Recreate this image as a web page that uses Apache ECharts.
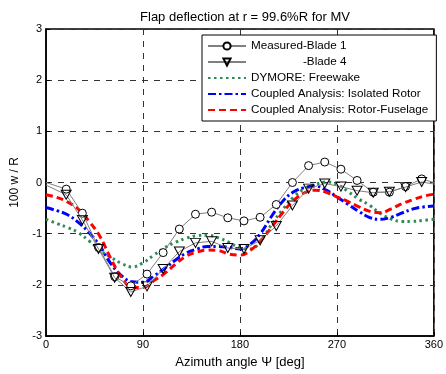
<!DOCTYPE html>
<html><head><meta charset="utf-8">
<script src="https://cdn.jsdelivr.net/npm/echarts@6/dist/echarts.min.js"></script>
<style>html,body{margin:0;padding:0;background:#fff}#c{width:446px;height:374px}</style>
</head><body><div id="c"></div>
<script>
// Measured azimuths (deg)
const measAz = [0, 18.75, 33.75, 48.75, 63.75, 78.75, 93.75, 108.75, 123.75, 138.75, 153.75, 168.75, 183.75, 198.75, 213.75, 228.75, 243.75, 258.75, 273.75, 288.75, 303.75, 318.75, 333.75, 348.75, 360];
const blade1 = [0.0, -0.13, -0.60, -1.27, -1.84, -2.02, -1.79, -1.37, -0.91, -0.62, -0.58, -0.69, -0.75, -0.68, -0.43, 0.0, 0.33, 0.40, 0.26, 0.04, -0.19, -0.19, -0.08, 0.07, 0.0];
const blade4 = [-0.05, -0.24, -0.73, -1.30, -1.86, -2.14, -2.03, -1.69, -1.35, -1.18, -1.15, -1.28, -1.30, -1.13, -0.85, -0.45, -0.12, -0.02, -0.08, -0.16, -0.20, -0.18, -0.09, 0.01, -0.03];
// Analysis azimuths (deg)
const simAz = [0,10,20,30,40,50,60,70,80,90,100,110,120,130,140,150,160,170,180,190,200,210,220,230,240,250,260,270,280,290,300,310,320,330,340,350,360];
const dymore = [-0.72,-0.80,-0.88,-0.98,-1.14,-1.32,-1.46,-1.58,-1.65,-1.57,-1.42,-1.28,-1.17,-1.09,-1.04,-1.03,-1.08,-1.17,-1.28,-1.30,-1.12,-0.80,-0.52,-0.28,-0.12,-0.04,0.01,-0.03,-0.17,-0.32,-0.44,-0.60,-0.71,-0.76,-0.76,-0.74,-0.72];
const isolated = [-0.49,-0.55,-0.63,-0.78,-0.98,-1.24,-1.58,-1.82,-1.94,-1.95,-1.83,-1.68,-1.52,-1.38,-1.30,-1.25,-1.25,-1.27,-1.30,-1.20,-0.97,-0.64,-0.36,-0.18,-0.10,-0.07,-0.15,-0.28,-0.42,-0.56,-0.68,-0.72,-0.68,-0.60,-0.52,-0.48,-0.46];
const fuselage = [-0.24,-0.29,-0.38,-0.52,-0.76,-1.05,-1.48,-1.85,-2.05,-2.05,-1.92,-1.78,-1.60,-1.44,-1.36,-1.32,-1.33,-1.40,-1.42,-1.32,-1.12,-0.86,-0.58,-0.35,-0.20,-0.15,-0.19,-0.28,-0.37,-0.47,-0.56,-0.59,-0.52,-0.42,-0.34,-0.27,-0.23];
const names = ['Measured-Blade 1','Measured-Blade 4','DYMORE: Freewake','Coupled Analysis: Isolated Rotor','Coupled Analysis: Rotor-Fuselage'];

const F = 'Liberation Sans, Arial, sans-serif';
function measData(az, v){
  return az.map((a,i)=>{
    const d = {value:[a, v[i]]};
    if (i===0 || i===az.length-1) d.symbol='none';
    return d;
  });
}
function simData(az, v){ return az.map((a,i)=>[a, v[i]]); }
const hideSym = {color:'rgba(0,0,0,0)', borderColor:'rgba(0,0,0,0)', borderWidth:0};

const chart = echarts.init(document.getElementById('c'), null, {renderer:'canvas'});
chart.setOption({
  animation:false,
  backgroundColor:'#fff',
  title:{text:'Flap deflection at r = 99.6%R for MV', left:240, textAlign:'center', top:6,
    textStyle:{fontFamily:F, fontSize:13, fontWeight:'normal', color:'#000'}},
  grid:{left:46, right:9, top:29, bottom:38, show:true, borderColor:'#000', borderWidth:1.5, backgroundColor:'transparent'},
  legend:{
    orient:'vertical', left:202, top:35,
    data:[
      {name:names[0]},
      {name:names[1]},
      {name:names[2], itemStyle:hideSym},
      {name:names[3], itemStyle:hideSym},
      {name:names[4], itemStyle:hideSym}
    ],
    backgroundColor:'#fff', borderColor:'#000', borderWidth:1, borderRadius:0,
    padding:[5,8,5,5], itemWidth:38, itemHeight:9, itemGap:4,
    textStyle:{fontFamily:F, fontSize:11.7, color:'#000',
      rich:{h:{color:'rgba(0,0,0,0)', fontFamily:F, fontSize:11.7}, n:{color:'#000', fontFamily:F, fontSize:11.7}}},
    formatter:function(n){
      if(n==='Measured-Blade 4') return '{h|Measured}{n|-Blade 4}';
      return n;
    }
  },
  xAxis:{type:'value', min:0, max:360, interval:90,
    name:'Azimuth angle \u03A8 [deg]', nameLocation:'middle', nameGap:20,
    nameTextStyle:{fontFamily:F, fontSize:13, color:'#000'},
    axisLine:{show:true, onZero:false, lineStyle:{color:'#000', width:1.5}},
    axisTick:{show:true, inside:true, length:4, lineStyle:{color:'#000'}},
    axisLabel:{fontFamily:F, fontSize:11, color:'#000', margin:3},
    splitLine:{show:true, lineStyle:{color:'#333', width:1, type:[6,6]}}},
  yAxis:{type:'value', min:-3, max:3, interval:1,
    name:'100 w / R', nameLocation:'middle', nameGap:25, nameRotate:90,
    nameTextStyle:{fontFamily:F, fontSize:12, color:'#000'},
    axisLine:{show:true, onZero:false, lineStyle:{color:'#000', width:1.5}},
    axisTick:{show:true, inside:true, length:4, lineStyle:{color:'#000'}},
    axisLabel:{fontFamily:F, fontSize:11, color:'#000', margin:4},
    splitLine:{show:true, lineStyle:{color:'#333', width:1, type:[6,6]}}},
  series:[
    {name:names[2], type:'line', smooth:0.4, symbol:'none', z:2, data:simData(simAz,dymore),
      lineStyle:{color:'#2e8b57', width:3, type:[2.5,3.5]}, itemStyle:{color:'#2e8b57'}},
    {name:names[3], type:'line', smooth:0.4, symbol:'none', z:3, data:simData(simAz,isolated),
      lineStyle:{color:'#0000ff', width:3, type:[8,3,2.5,3]}, itemStyle:{color:'#0000ff'}},
    {name:names[4], type:'line', smooth:0.4, symbol:'none', z:4, data:simData(simAz,fuselage),
      lineStyle:{color:'#ff0000', width:3, type:[7,4]}, itemStyle:{color:'#ff0000'}},
    {name:names[0], type:'line', symbol:'circle', symbolSize:8, z:5, data:measData(measAz,blade1),
      lineStyle:{color:'#808080', width:1}, itemStyle:{color:'#fff', borderColor:'#000', borderWidth:1}},
    {name:names[1], type:'line', symbol:'triangle', symbolRotate:180, symbolSize:[10,9], z:6, data:measData(measAz,blade4),
      lineStyle:{color:'#808080', width:1}, itemStyle:{color:'rgba(255,255,255,0)', borderColor:'#000', borderWidth:1}}
  ]
});
</script></body></html>
